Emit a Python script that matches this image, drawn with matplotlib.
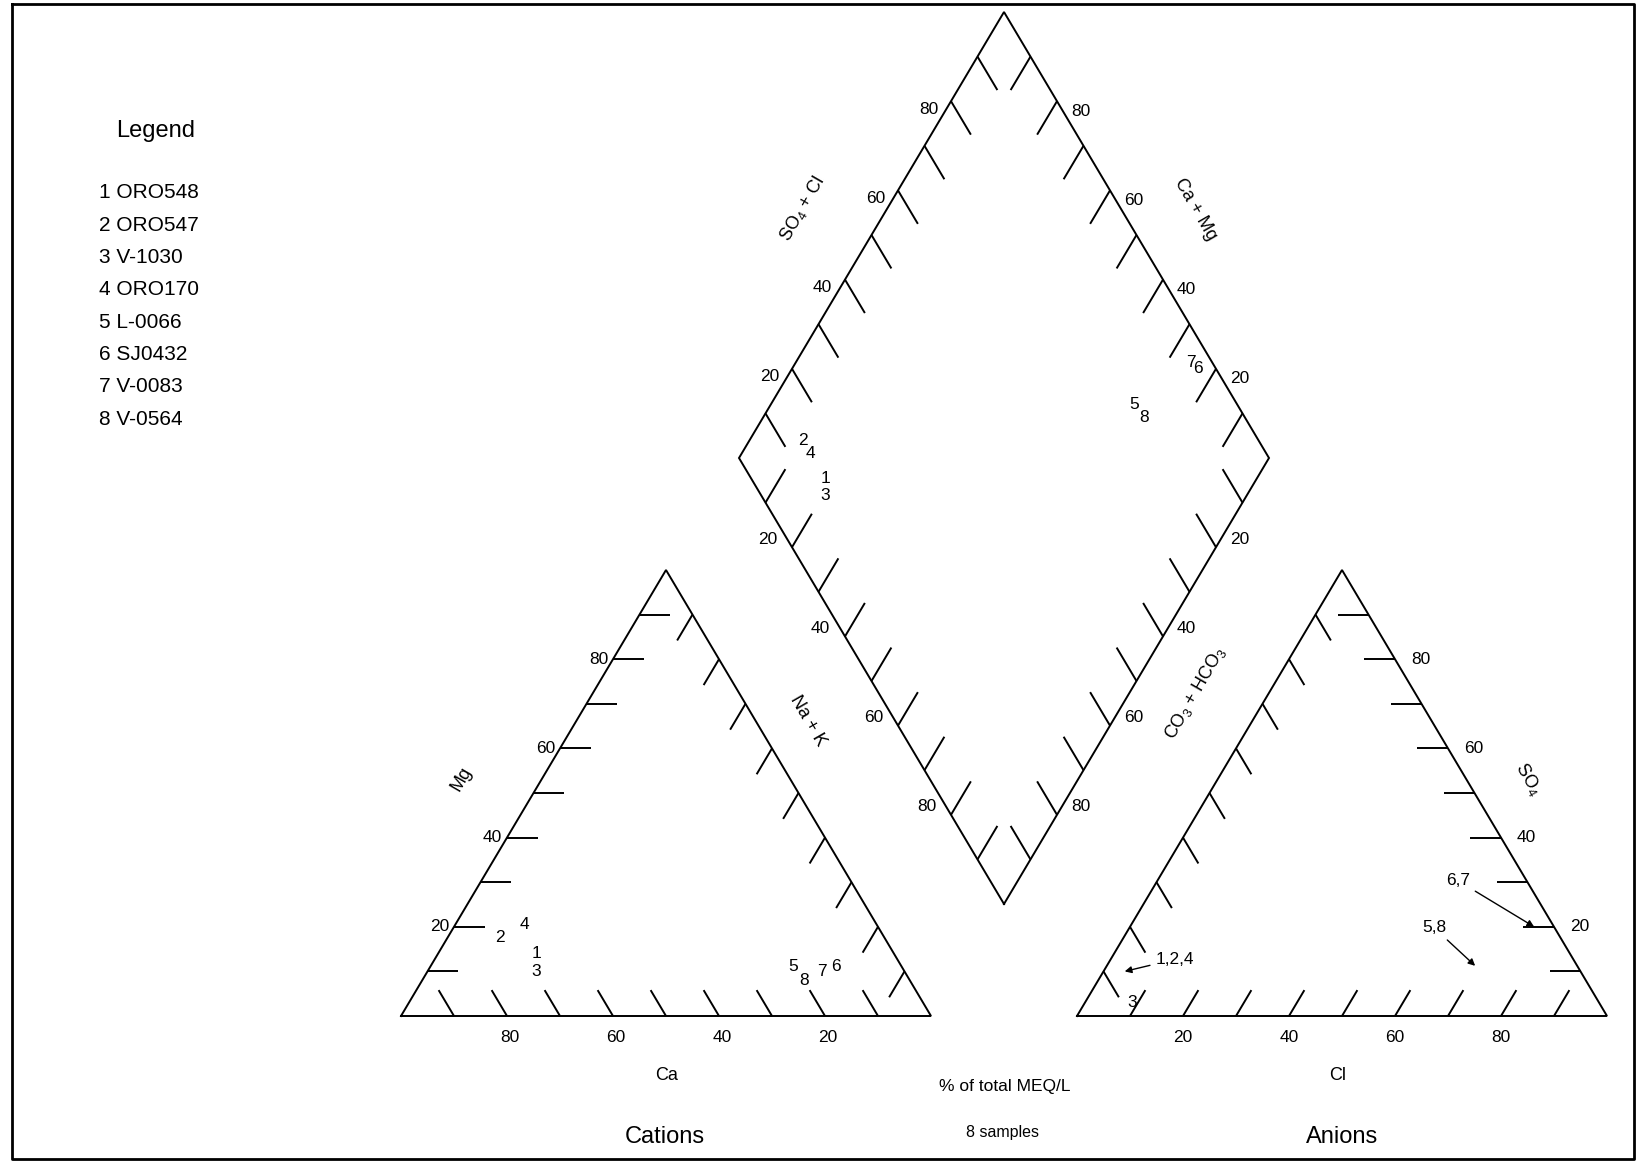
import matplotlib
matplotlib.use("Agg")
import matplotlib.pyplot as plt
import numpy as np

plt.rcParams['font.family'] = ['Liberation Sans', 'DejaVu Sans']
plt.rcParams['mathtext.fontset'] = 'custom'
plt.rcParams['mathtext.rm'] = 'Liberation Sans'
plt.rcParams['mathtext.default'] = 'regular'

# sample data, fractions of total meq/L
sample_ids = [1, 2, 3, 4, 5, 6, 7, 8]
sample_names = ["ORO548", "ORO547", "V-1030", "ORO170", "L-0066", "SJ0432", "V-0083", "V-0564"]
ca = [0.675, 0.725, 0.695, 0.665, 0.205, 0.125, 0.155, 0.200]
mg = [0.140, 0.175, 0.100, 0.205, 0.110, 0.110, 0.100, 0.080]
na_k = [0.185, 0.100, 0.205, 0.130, 0.685, 0.765, 0.745, 0.720]
so4 = [0.100, 0.100, 0.030, 0.100, 0.115, 0.200, 0.200, 0.110]
cl = [0.040, 0.040, 0.090, 0.040, 0.690, 0.765, 0.760, 0.700]
hco3 = [1 - s - c for s, c in zip(so4, cl)]

# anion triangle: overlapping samples are labelled as groups
anion_groups = [("1,2,4", [1, 2, 4]), ("3", [3]), ("5,8", [5, 8]), ("6,7", [6, 7])]
anion_group_offsets = {"1,2,4": (50, -12), "3": (0, 0), "5,8": (-41, -38), "6,7": (-76, -46)}

ticks = [0.1, 0.2, 0.3, 0.4, 0.5, 0.6, 0.7, 0.8, 0.9]
tick_labels = [0.2, 0.4, 0.6, 0.8]

# layout in pixels
S = 530.0
H = 446.0
cat_x0 = 401.0
an_x0 = 1077.0
base_y = 1016.0
Bx = (cat_x0 + S + an_x0) / 2
By = 904.0
t_tri = 0.058
t_dia = 0.075


def cat_xy(c, m, n):
    return cat_x0 + S * (n + m / 2), base_y - H * m


def an_xy(h, s, c):
    return an_x0 + S * (c + s / 2), base_y - H * s


def dia_xy(cm, sc):
    return Bx + S / 2 * (sc - cm), By - H * (sc + cm)


fig = plt.figure(figsize=(16.39, 11.61), dpi=100)
ax = fig.add_axes([0, 0, 1, 1])
ax.set_xlim(0, 1639)
ax.set_ylim(1161, 0)
ax.axis('off')

lw = 1.4
kw = dict(color='black', lw=lw, solid_capstyle='butt')


def seg(p, q):
    ax.plot([p[0], q[0]], [p[1], q[1]], **kw)


# outlines
for pts in ([cat_xy(1, 0, 0), cat_xy(0, 0, 1), cat_xy(0, 1, 0), cat_xy(1, 0, 0)],
            [an_xy(1, 0, 0), an_xy(0, 0, 1), an_xy(0, 1, 0), an_xy(1, 0, 0)],
            [dia_xy(0, 0), dia_xy(1, 0), dia_xy(1, 1), dia_xy(0, 1), dia_xy(0, 0)]):
    xs, ys = zip(*pts)
    ax.plot(xs, ys, color='black', lw=lw, solid_joinstyle='miter')

# ticks
for v in ticks:
    # cations
    seg(cat_xy(1 - v, v, 0), cat_xy(1 - v - t_tri, v, t_tri))
    seg(cat_xy(v, 0, 1 - v), cat_xy(v, t_tri, 1 - v - t_tri))
    seg(cat_xy(0, 1 - v, v), cat_xy(t_tri, 1 - v - t_tri, v))
    # anions
    seg(an_xy(1 - v, 0, v), an_xy(1 - v - t_tri, t_tri, v))
    seg(an_xy(0, v, 1 - v), an_xy(t_tri, v, 1 - v - t_tri))
    seg(an_xy(v, 1 - v, 0), an_xy(v, 1 - v - t_tri, t_tri))
    # diamond
    seg(dia_xy(1, v), dia_xy(1 - t_dia, v))
    seg(dia_xy(v, 1), dia_xy(v, 1 - t_dia))
    seg(dia_xy(v, 0), dia_xy(v, t_dia))
    seg(dia_xy(0, v), dia_xy(t_dia, v))

fs_tick = 12.5
for v in tick_labels:
    lab = str(int(round(v * 100)))
    x, y = cat_xy(1 - v, v, 0)
    ax.text(x - 5, y, lab, ha='right', va='center', fontsize=fs_tick)
    x, y = cat_xy(v, 0, 1 - v)
    ax.text(x + 3, y + 22, lab, ha='center', va='center', fontsize=fs_tick)
    x, y = an_xy(1 - v, 0, v)
    ax.text(x, y + 22, lab, ha='center', va='center', fontsize=fs_tick)
    x, y = an_xy(0, v, 1 - v)
    ax.text(x + 16, y, lab, ha='left', va='center', fontsize=fs_tick)
    x, y = dia_xy(1, v)
    ax.text(x - 13, y + 8, lab, ha='right', va='center', fontsize=fs_tick)
    x, y = dia_xy(v, 1)
    ax.text(x + 14, y + 10, lab, ha='left', va='center', fontsize=fs_tick)
    x, y = dia_xy(1 - v, 0)
    ax.text(x - 15, y - 8, lab, ha='right', va='center', fontsize=fs_tick)
    x, y = dia_xy(0, 1 - v)
    ax.text(x + 14, y - 8, lab, ha='left', va='center', fontsize=fs_tick)

# axis names
fs_ax = 13
ax.text(461, 779, "Mg", rotation=60, ha='center', va='center', fontsize=fs_ax)
ax.text(667, 1075, "Ca", ha='center', va='center', fontsize=fs_ax)
ax.text(808, 721, "Na + K", rotation=-60, ha='center', va='center', fontsize=fs_ax)
ax.text(802, 209, "SO$_4$ + Cl", rotation=60, ha='center', va='center', fontsize=fs_ax)
ax.text(1195, 209, "Ca + Mg", rotation=-60, ha='center', va='center', fontsize=fs_ax)
ax.text(1195, 693, "CO$_3$ + HCO$_3$", rotation=60, ha='center', va='center', fontsize=fs_ax)
ax.text(1528, 779, "SO$_4$", rotation=-60, ha='center', va='center', fontsize=fs_ax)
ax.text(1338, 1075, "Cl", ha='center', va='center', fontsize=fs_ax)
ax.text(1005, 1087, "% of total MEQ/L", ha='center', va='center', fontsize=12.5)
ax.text(1003, 1132, "%d samples" % len(sample_ids), ha='center', va='center', fontsize=11.5)
ax.text(665, 1137, "Cations", ha='center', va='center', fontsize=17)
ax.text(1342, 1137, "Anions", ha='center', va='center', fontsize=17)

# samples
fs_pt = 12.5
for i, sid in enumerate(sample_ids):
    x, y = cat_xy(ca[i], mg[i], na_k[i])
    ax.text(x, y, str(sid), ha='center', va='center', fontsize=fs_pt)
    x, y = dia_xy(ca[i] + mg[i], so4[i] + cl[i])
    ax.text(x, y, str(sid), ha='center', va='center', fontsize=fs_pt)

for lab, members in anion_groups:
    idx = [sample_ids.index(m) for m in members]
    x = np.mean([an_xy(hco3[i], so4[i], cl[i])[0] for i in idx])
    y = np.mean([an_xy(hco3[i], so4[i], cl[i])[1] for i in idx])
    dx, dy = anion_group_offsets[lab]
    if dx == 0 and dy == 0:
        ax.text(x, y, lab, ha='center', va='center', fontsize=fs_pt)
    else:
        ax.annotate(lab, xy=(x, y), xytext=(x + dx, y + dy), ha='center', va='center',
                    fontsize=fs_pt,
                    arrowprops=dict(arrowstyle='-|>', color='black', lw=1,
                                    mutation_scale=10, shrinkA=2, shrinkB=0))

# legend
ax.text(156, 131, "Legend", ha='center', va='center', fontsize=17)
for i, (sid, name) in enumerate(zip(sample_ids, sample_names)):
    ax.text(99, 193 + i * 32.3, "%d %s" % (sid, name), ha='left', va='center', fontsize=15)

# frame
ax.plot([12, 1634, 1634, 12, 12], [4, 4, 1159, 1159, 4], color='black', lw=2)

fig.savefig("out.png", dpi=100)
